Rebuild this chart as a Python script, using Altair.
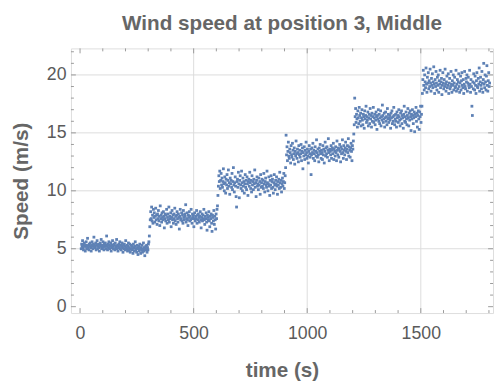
import altair as alt
import pandas as pd

t_start = 5
t_step = 2

step1 = [5.0, 5.4, 5.2, 5.7, 5.1, 4.9, 5.3, 5.5, 5.2, 4.8,
         5.3, 5.6, 5.0, 5.2, 5.9, 5.1, 5.3, 4.9, 5.4, 5.2,
         5.5, 5.1, 4.8, 5.3, 5.6, 5.2, 5.0, 5.4, 6.0, 5.3,
         5.1, 5.2, 5.5, 4.9, 5.3, 5.7, 5.0, 5.2, 5.4, 5.1,
         4.8, 5.3, 5.5, 5.2, 5.8, 5.0, 5.3, 5.1, 5.6, 5.2,
         4.9, 5.4, 5.2, 5.5, 5.0, 5.3, 6.1, 5.2, 4.9, 5.4,
         5.1, 5.6, 5.3, 5.0, 5.2, 5.5, 4.8, 5.3, 5.1, 5.7,
         5.2, 5.0, 5.4, 5.3, 4.9, 5.5, 5.1, 5.2, 5.8, 5.0,
         5.3, 4.8, 5.2, 5.4, 5.1, 5.6, 5.0, 5.3, 4.9, 5.2,
         5.5, 5.1, 4.7, 5.3, 5.0, 5.4, 5.2, 4.9, 5.7, 5.1,
         5.0, 5.3, 4.8, 5.2, 5.5, 4.9, 5.1, 5.4, 4.7, 5.0,
         5.3, 4.9, 5.2, 5.0, 4.6, 5.4, 5.1, 4.8, 5.2, 5.6,
         4.9, 5.0, 4.7, 5.3, 5.1, 4.5, 5.0, 5.2, 4.8, 5.4,
         5.0, 4.6, 5.1, 4.9, 5.3, 4.7, 5.0, 5.5, 4.8, 5.1,
         4.4, 5.0, 5.2, 4.9, 5.3, 4.7, 5.1, 4.9, 5.4, 5.6]

step2 = [6.1, 6.9, 7.5, 8.2, 7.6, 8.6, 7.4, 7.9, 7.2, 8.4,
         7.7, 8.1, 7.3, 7.8, 8.5, 7.5, 7.9, 7.1, 8.0, 7.6,
         8.3, 7.4, 7.8, 7.0, 8.7, 7.6, 7.9, 7.3, 8.1, 7.7,
         7.5, 8.2, 7.8, 6.8, 7.6, 8.0, 7.4, 7.9, 8.4, 7.2,
         7.7, 8.0, 7.5, 8.6, 7.3, 7.8, 7.6, 8.1, 6.9, 7.7,
         8.3, 7.5, 7.9, 7.2, 8.0, 7.6, 8.5, 7.4, 7.8, 7.1,
         7.9, 8.2, 7.6, 7.3, 8.0, 7.7, 6.7, 7.8, 8.4, 7.5,
         7.6, 8.1, 7.4, 7.9, 7.2, 8.3, 7.7, 7.5, 8.0, 7.8,
         8.8, 7.3, 7.6, 8.1, 7.5, 7.0, 7.9, 7.7, 8.2, 7.4,
         7.8, 7.5, 8.4, 7.6, 7.2, 8.0, 7.7, 7.9, 6.9, 7.6,
         8.1, 7.4, 7.8, 7.6, 8.3, 7.2, 7.9, 7.5, 8.0, 7.7,
         7.3, 7.8, 8.2, 7.5, 6.8, 7.7, 8.0, 7.4, 7.9, 7.6,
         8.4, 7.5, 7.1, 7.8, 7.6, 8.1, 7.3, 6.6, 7.9, 7.7,
         7.5, 8.2, 7.4, 6.9, 7.8, 7.6, 8.0, 7.2, 6.5, 7.9,
         7.7, 7.4, 8.3, 7.1, 7.8, 7.5, 6.7, 8.0, 7.6, 8.4]

step3 = [8.7, 9.6, 10.4, 11.3, 10.8, 11.7, 10.2, 10.9, 11.5, 10.5,
         11.1, 10.3, 10.8, 11.9, 10.6, 10.0, 11.2, 10.7, 9.8, 11.0,
         10.5, 11.4, 10.2, 10.9, 11.8, 10.4, 10.7, 9.7, 11.1, 10.6,
         10.9, 10.3, 11.5, 10.1, 10.8, 12.0, 10.5, 9.9, 10.7, 11.2,
         10.4, 9.5, 8.6, 10.8, 11.0, 10.3, 11.6, 10.6, 9.4, 10.9,
         11.3, 10.5, 10.2, 11.7, 10.7, 10.0, 11.1, 10.4, 10.8, 9.8,
         10.6, 11.4, 10.3, 10.9, 10.1, 11.2, 10.6, 9.6, 10.8, 11.0,
         10.4, 11.6, 10.7, 10.2, 10.9, 9.9, 11.3, 10.5, 10.8, 10.1,
         11.0, 10.6, 11.8, 10.3, 10.7, 9.5, 10.9, 11.2, 10.4, 10.6,
         10.1, 11.1, 10.5, 10.8, 9.7, 11.4, 10.3, 10.7, 11.0, 10.4,
         10.9, 10.2, 11.5, 10.6, 9.9, 10.8, 11.1, 10.5, 10.3, 11.7,
         10.7, 10.0, 10.6, 11.2, 10.4, 9.6, 10.9, 10.5, 11.3, 10.2,
         10.8, 11.0, 10.3, 9.8, 10.7, 11.4, 10.5, 10.1, 10.9, 10.6,
         11.2, 10.4, 9.7, 10.8, 10.5, 11.0, 10.2, 11.6, 10.7, 10.3,
         10.9, 9.9, 10.6, 11.1, 10.4, 10.8, 11.5, 10.2, 10.7, 11.3]

step4 = [12.0, 14.8, 13.1, 13.8, 12.6, 13.4, 14.2, 13.0, 12.8, 13.6,
         13.3, 12.4, 13.9, 13.1, 12.9, 14.1, 13.5, 12.7, 13.2, 13.7,
         12.3, 13.4, 13.0, 14.3, 13.2, 12.8, 13.6, 13.3, 12.5, 13.9,
         13.1, 13.5, 12.9, 13.2, 14.0, 12.6, 13.4, 13.7, 11.9, 13.3,
         13.0, 13.8, 12.7, 13.5, 13.1, 14.2, 13.3, 12.8, 13.6, 13.0,
         12.4, 13.4, 13.9, 13.2, 12.9, 13.6, 11.4, 13.1, 13.7, 13.3,
         14.1, 12.8, 13.5, 13.2, 12.6, 13.8, 13.4, 13.0, 14.4, 13.3,
         12.9, 13.6, 13.1, 12.5, 13.7, 13.4, 14.0, 13.2, 12.8, 13.5,
         13.3, 12.7, 13.9, 13.1, 13.6, 12.4, 13.4, 14.2, 13.0, 13.7,
         13.2, 13.8, 12.9, 13.5, 14.5, 13.3, 12.6, 13.6, 13.4, 13.1,
         13.9, 12.8, 13.5, 13.7, 13.2, 14.1, 12.7, 13.6, 13.4, 13.0,
         13.8, 13.3, 12.6, 14.3, 13.5, 13.1, 13.7, 12.9, 13.6, 14.0,
         13.4, 12.5, 13.8, 13.2, 13.6, 14.4, 13.3, 12.8, 13.9, 13.5,
         13.1, 13.7, 14.2, 13.4, 12.7, 13.6, 13.9, 13.3, 14.5, 13.0,
         13.8, 13.5, 12.9, 13.7, 14.1, 13.4, 12.6, 13.9, 13.6, 14.3]

step5 = [14.9, 15.7, 18.0, 16.4, 17.1, 15.9, 16.6, 16.2, 15.5, 16.9,
         16.3, 15.8, 17.2, 16.5, 16.0, 16.7, 15.6, 16.3, 17.0, 16.1,
         15.7, 16.6, 16.4, 15.4, 16.9, 16.2, 16.5, 17.3, 15.9, 16.4,
         16.1, 16.8, 15.6, 16.3, 16.6, 15.8, 17.1, 16.2, 16.5, 15.5,
         16.7, 16.0, 16.4, 17.2, 15.9, 16.3, 16.6, 15.7, 16.1, 16.8,
         16.4, 15.3, 16.5, 16.2, 17.0, 16.0, 16.6, 15.8, 16.3, 16.9,
         15.6, 16.4, 16.1, 17.4, 16.5, 15.9, 16.2, 16.7, 15.5, 16.3,
         16.8, 16.0, 16.4, 15.7, 17.1, 16.2, 16.6, 15.9, 16.3, 16.5,
         16.1, 15.4, 16.7, 16.3, 16.9, 15.8, 16.4, 16.0, 17.2, 16.5,
         15.7, 16.2, 16.6, 16.0, 15.5, 16.8, 16.3, 16.5, 15.9, 17.0,
         16.4, 16.1, 15.6, 16.7, 16.2, 16.9, 15.8, 16.5, 16.3, 15.4,
         16.6, 17.3, 16.0, 16.4, 15.9, 16.8, 16.2, 15.7, 16.5, 17.1,
         16.3, 15.6, 16.7, 16.1, 16.9, 16.4, 15.2, 16.6, 16.2, 17.0,
         16.5, 15.8, 16.3, 16.8, 15.1, 16.6, 16.4, 17.2, 16.0, 16.7,
         15.5, 16.5, 16.9, 16.2, 15.3, 16.8, 16.4, 17.3, 15.9, 16.6]

step6 = [17.3, 18.4, 19.6, 20.4, 19.1, 18.7, 20.0, 19.4, 18.9, 20.6,
         19.2, 18.5, 19.8, 19.3, 20.2, 18.8, 19.5, 19.0, 20.5, 19.3,
         18.6, 19.7, 19.1, 20.1, 18.9, 19.4, 20.7, 19.2, 18.4, 19.6,
         19.0, 20.3, 19.3, 18.7, 19.8, 19.1, 20.0, 18.5, 19.5, 19.2,
         20.4, 18.9, 19.4, 19.7, 18.3, 19.1, 20.2, 19.3, 18.8, 19.6,
         19.0, 20.5, 19.2, 18.6, 19.4, 19.9, 18.9, 19.1, 20.1, 18.4,
         19.3, 19.7, 18.8, 19.0, 20.3, 19.2, 18.5, 19.5, 19.1, 20.0,
         18.7, 19.3, 19.8, 18.9, 19.0, 20.4, 18.6, 19.2, 19.6, 18.8,
         19.4, 20.1, 19.0, 18.5, 19.3, 19.9, 18.7, 19.5, 20.2, 19.1,
         18.9, 19.6, 18.4, 19.2, 20.3, 19.0, 18.8, 19.7, 19.4, 20.0,
         18.6, 19.3, 19.8, 19.1, 18.9, 20.4, 19.2, 18.5, 19.6, 19.0,
         17.3, 16.5, 19.4, 18.8, 20.1, 19.3, 18.7, 19.9, 19.1, 18.4,
         19.5, 20.2, 19.0, 18.9, 19.7, 19.2, 20.6, 18.6, 19.4, 19.8,
         19.1, 18.8, 20.3, 19.3, 18.5, 19.6, 21.0, 19.2, 18.9, 20.0,
         19.4, 18.7, 19.9, 20.8, 19.1, 18.6, 19.5, 20.2, 19.0, 19.3]

x_major = [0, 500, 1000, 1500]
x_minor = [100, 200, 300, 400, 600, 700, 800, 900, 1100, 1200, 1300, 1400, 1600, 1700, 1800]
y_major = [0, 5, 10, 15, 20]
y_minor = [1, 2, 3, 4, 6, 7, 8, 9, 11, 12, 13, 14, 16, 17, 18, 19, 21, 22]
x_grid = [500, 1000, 1500]
y_grid = [5, 10, 15, 20]

speeds = step1 + step2 + step3 + step4 + step5 + step6
times = [t_start + t_step * i for i in range(len(speeds))]
df = pd.DataFrame({"time": times, "speed": speeds})

# ---- styling ----
W, H = 429, 269
FONT = "Liberation Sans"
FRAME = "#9a9a9a"
GRID = "#dcdcdc"
TXT = "#666666"
LBL = "#5a5a5a"
BLUE = "#5E81B5"

xscale = alt.Scale(domain=[-40, 1818], nice=False, zero=False)
yscale = alt.Scale(domain=[-0.55, 22.29], nice=False, zero=False)

x_axis = alt.Axis(values=x_major, format="d", title="time (s)", grid=False,
                  ticks=False, domain=False, labelPadding=12,
                  labelFontSize=18, labelFont=FONT, labelColor=LBL,
                  titleFont=FONT, titleFontSize=21, titleFontWeight="bold",
                  titleColor=TXT, titlePadding=17)
y_axis = alt.Axis(values=y_major, format="d", title="Speed (m/s)", grid=False,
                  ticks=False, domain=False, labelPadding=5,
                  labelFontSize=18, labelFont=FONT, labelColor=LBL,
                  titleFont=FONT, titleFontSize=21, titleFontWeight="bold",
                  titleColor=TXT, titlePadding=15)

# grid lines (no grid at 0, as in the reference)
xgrid = alt.Chart(pd.DataFrame({"time": x_grid})).mark_rule(color=GRID, strokeWidth=1).encode(
    x=alt.X("time:Q", scale=xscale, axis=x_axis))
ygrid = alt.Chart(pd.DataFrame({"speed": y_grid})).mark_rule(color=GRID, strokeWidth=1).encode(
    y=alt.Y("speed:Q", scale=yscale, axis=y_axis))

points = alt.Chart(df).mark_square(size=8, color=BLUE, opacity=1).encode(
    x=alt.X("time:Q", scale=xscale, axis=x_axis),
    y=alt.Y("speed:Q", scale=yscale, axis=y_axis),
)


def xticks(vals, length, top):
    d = pd.DataFrame({"time": vals})
    if top:
        ys = dict(y=alt.value(0), y2=alt.value(length))
    else:
        ys = dict(y=alt.value(H), y2=alt.value(H - length))
    return alt.Chart(d).mark_rule(color=FRAME, strokeWidth=1).encode(
        x=alt.X("time:Q", scale=xscale, axis=x_axis), **ys)


def yticks(vals, length, right):
    d = pd.DataFrame({"speed": vals})
    if right:
        xs = dict(x=alt.value(W), x2=alt.value(W - length))
    else:
        xs = dict(x=alt.value(0), x2=alt.value(length))
    return alt.Chart(d).mark_rule(color=FRAME, strokeWidth=1).encode(
        y=alt.Y("speed:Q", scale=yscale, axis=y_axis), **xs)


layers = [xgrid, ygrid, points]
for top in (False, True):
    layers.append(xticks(x_major, 5, top))
    layers.append(xticks(x_minor, 3, top))
for right in (False, True):
    layers.append(yticks(y_major, 5, right))
    layers.append(yticks(y_minor, 3, right))

chart = alt.layer(*layers).properties(
    width=W, height=H,
    title=alt.TitleParams("Wind speed at position 3, Middle", font=FONT, fontSize=21,
                          fontWeight="bold", color=TXT, anchor="middle", offset=14),
    autosize=alt.AutoSizeParams(type="none"),
    padding={"left": 64, "top": 38, "right": 2, "bottom": 66},
).configure_view(stroke=FRAME, strokeWidth=1).configure(background="white")

chart.save("out.html", embed_options={"renderer": "svg", "actions": False})
